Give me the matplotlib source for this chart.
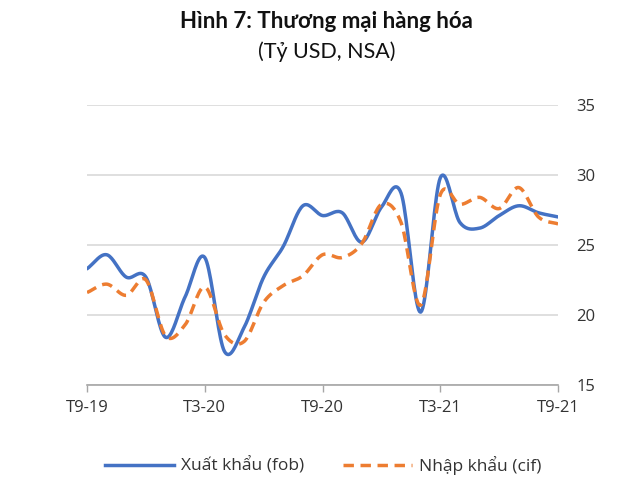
import numpy as np
import matplotlib

matplotlib.use('agg')
import matplotlib.pyplot as plt
from matplotlib.lines import Line2D

# data (ty USD), monthly T9-19 .. T9-21
months = list(range(25))
tick_pos = [0, 6, 12, 18, 24]
tick_labels = ['T9-19', 'T3-20', 'T9-20', 'T3-21', 'T9-21']
exports = [23.3, 24.3, 22.7, 22.7, 18.4, 21.3, 24.1, 17.4, 19.1, 22.7, 24.9, 27.8, 27.1,
           27.3, 25.2, 27.7, 28.7, 20.2, 29.8, 26.6, 26.2, 27.1, 27.8, 27.3, 27.0]
imports = [21.6, 22.2, 21.4, 22.5, 18.5, 19.3, 22.0, 18.6, 18.1, 20.9, 22.1, 22.8, 24.3,
           24.1, 25.1, 27.9, 26.6, 20.7, 28.6, 27.9, 28.4, 27.6, 29.1, 27.0, 26.5]

BLUE = '#4472C4'
ORANGE = '#ED7D31'
TXT = '#333333'


def smooth(x, y, n=20):
    # catmull-rom style curve, like excel "smoothed line"
    x = np.asarray(x, float)
    y = np.asarray(y, float)
    px = np.concatenate([[2 * x[0] - x[1]], x, [2 * x[-1] - x[-2]]])
    py = np.concatenate([[2 * y[0] - y[1]], y, [2 * y[-1] - y[-2]]])
    xs, ys = [], []
    t = np.linspace(0, 1, n, endpoint=False)
    for i in range(1, len(px) - 2):
        for p, out in ((px, xs), (py, ys)):
            p0, p1, p2, p3 = p[i - 1], p[i], p[i + 1], p[i + 2]
            out.extend(0.5 * ((2 * p1) + (-p0 + p2) * t
                              + (2 * p0 - 5 * p1 + 4 * p2 - p3) * t ** 2
                              + (-p0 + 3 * p1 - 3 * p2 + p3) * t ** 3))
    xs.append(x[-1])
    ys.append(y[-1])
    return np.array(xs), np.array(ys)


fig = plt.figure(figsize=(6.4, 4.86), dpi=100)
ax = fig.add_axes([0.136, 0.208, 0.736, 0.576])

ex_x, ex_y = smooth(months, exports)
im_x, im_y = smooth(months, imports)
ax.plot(ex_x, ex_y, color=BLUE, lw=2.5, solid_capstyle='round', zorder=3)
ax.plot(im_x, im_y, color=ORANGE, lw=2.5, dashes=(3.0, 1.9), zorder=4)

ax.set_xlim(0, 24)
ax.set_ylim(15, 35)
ax.set_yticks([15, 20, 25, 30, 35])
ax.yaxis.tick_right()
ax.tick_params(axis='y', length=0, pad=13, labelsize=12, labelcolor=TXT)
ax.grid(axis='y', color='#d9d9d9', lw=1.2)
ax.set_axisbelow(True)

ax.set_xticks(tick_pos)
ax.set_xticklabels(tick_labels)
ax.tick_params(axis='x', length=5, width=1, color='#a6a6a6', pad=6,
               labelsize=12, labelcolor=TXT)
for s in ['top', 'right', 'left']:
    ax.spines[s].set_visible(False)
ax.spines['bottom'].set_color('#a6a6a6')
ax.spines['bottom'].set_linewidth(1.2)
for lab in ax.get_xticklabels() + ax.get_yticklabels():
    lab.set_family('Open Sans')

fig.text(0.51, 0.955, 'Hình 7: Thương mại hàng hóa', ha='center', va='center',
         fontsize=16, fontweight='bold', family='Lato', color='#111111')
fig.text(0.51, 0.893, '(Tỷ USD, NSA)', ha='center', va='center',
         fontsize=15.5, family='Lato', color='#111111')

handles = [Line2D([], [], color=BLUE, lw=2.5),
           Line2D([], [], color=ORANGE, lw=2.5, dashes=(3.0, 1.9))]
fig.legend(handles, ['Xuất khẩu (fob)', 'Nhập khẩu (cif)'], loc='center',
           bbox_to_anchor=(0.505, 0.043), ncol=2, frameon=False,
           prop={'family': 'Open Sans', 'size': 12.5}, handlelength=4.0,
           handletextpad=0.4, columnspacing=2.2, labelcolor=TXT)

fig.savefig('out.png', dpi=100)
